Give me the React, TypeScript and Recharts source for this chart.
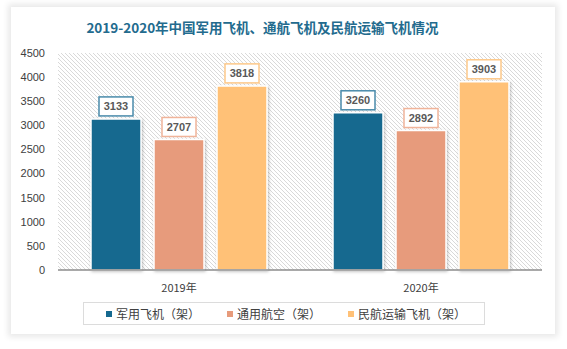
import React from "react";
import {
  BarChart,
  Bar,
  XAxis,
  YAxis,
  CartesianGrid,
  LabelList,
} from "recharts";

const years = ["2019年", "2020年"];
const military = [3133, 3260];
const general = [2707, 2892];
const civil = [3818, 3903];
const yTicks = [0, 500, 1000, 1500, 2000, 2500, 3000, 3500, 4000, 4500];

const series = [
  { key: "military", name: "军用飞机（架）", color: "#15698f", border: "#4a8bab" },
  { key: "general", name: "通用航空（架）", color: "#e79b7b", border: "#f0b49a" },
  { key: "civil", name: "民航运输飞机（架）", color: "#ffc177", border: "#fdc98a" },
];

const data = years.map((y, i) => ({
  year: y,
  military: military[i],
  general: general[i],
  civil: civil[i],
}));

const font = "'Liberation Sans', Arial, sans-serif";

function makeLabel(border: string) {
  return (props: any) => {
    const { x, y, width, value } = props;
    const cx = x + width / 2;
    const w = 34;
    const h = 19;
    return (
      <g>
        <rect
          x={cx - w / 2}
          y={y - h - 3}
          width={w}
          height={h}
          fill="#fff"
          stroke={border}
          strokeWidth={1.5}
        />
        <text
          x={cx}
          y={y - 3 - h / 2}
          textAnchor="middle"
          dominantBaseline="central"
          fontSize={11}
          fontWeight="bold"
          fontFamily={font}
          fill="#595959"
        >
          {value}
        </text>
      </g>
    );
  };
}

function LegendBox() {
  return (
    <div
      style={{
        position: "absolute",
        left: 83,
        top: 302,
        width: 402,
        height: 23,
        border: "1px solid #dcdcdc",
        display: "flex",
        alignItems: "center",
        paddingLeft: 22,
        boxSizing: "border-box",
        fontFamily: "'Noto Sans CJK SC', sans-serif",
        fontSize: 12,
        color: "#404040",
      }}
    >
      {series.map((s, i) => (
        <div
          key={s.key}
          style={{ display: "flex", alignItems: "center", width: i === 2 ? undefined : 121 }}
        >
          <span
            style={{
              display: "inline-block",
              width: 6,
              height: 6,
              background: s.color,
              marginRight: 4,
            }}
          />
          <span>{s.name}</span>
        </div>
      ))}
    </div>
  );
}

export default function App() {
  return (
    <div
      style={{
        position: "absolute",
        left: 0,
        top: 0,
        width: 567,
        height: 349,
        background: "#fff",
        overflow: "hidden",
      }}
    >
      <div
        style={{
          position: "absolute",
          left: 11,
          top: 7,
          width: 544,
          height: 327,
          background: "#fff",
          boxShadow: "0 0 6px 3px rgba(0,0,0,0.09)",
        }}
      />
      <div
        style={{
          position: "absolute",
          left: 0,
          top: 17,
          width: 525,
          textAlign: "center",
          fontFamily: "'Noto Sans CJK SC', serif",
          fontSize: 13.5,
          fontWeight: "bold",
          color: "#236b8e",
        }}
      >
        2019-2020年中国军用飞机、通航飞机及民航运输飞机情况
      </div>
      <div style={{ position: "absolute", left: 0, top: 0 }}>
        <BarChart
          width={567}
          height={349}
          data={data}
          margin={{ top: 53, right: 25, bottom: 49, left: 0 }}
          barCategoryGap={33}
          barGap={13}
        >
          <defs>
            <pattern id="hatch" width={4} height={4} patternUnits="userSpaceOnUse">
              <rect width={4} height={4} fill="#fff" />
              <path d="M-1,-1 L1,1 M0,0 L4,4 M3,3 L5,5" stroke="#d9d9d9" strokeWidth={1} />
            </pattern>
            <filter id="shadow" x="-20%" y="-20%" width="140%" height="140%">
              <feDropShadow dx={1} dy={1} stdDeviation={1.5} floodColor="#000" floodOpacity={0.25} />
            </filter>
          </defs>
          <CartesianGrid horizontal={false} vertical={false} fill="url(#hatch)" />
          <XAxis
            dataKey="year"
            height={30}
            tickLine={false}
            axisLine={{ stroke: "#8c8c8c", strokeWidth: 1.5 }}
            tick={{ fontSize: 11, fill: "#404040", fontFamily: "'Noto Sans CJK SC', sans-serif" }}
            tickMargin={8}
          />
          <YAxis
            width={58}
            domain={[0, 4500]}
            ticks={yTicks}
            axisLine={false}
            tickLine={false}
            tickSize={0}
            tickMargin={13}
            tick={{ fontSize: 11, fill: "#404040", fontFamily: font }}
          />
          {series.map((s) => (
            <Bar
              key={s.key}
              dataKey={s.key}
              name={s.name}
              fill={s.color}
              stroke="#fff"
              strokeWidth={1.5}
              barSize={50}
              filter="url(#shadow)"
              isAnimationActive={false}
            >
              <LabelList dataKey={s.key} content={makeLabel(s.border)} />
            </Bar>
          ))}
        </BarChart>
      </div>
      <LegendBox />
    </div>
  );
}
